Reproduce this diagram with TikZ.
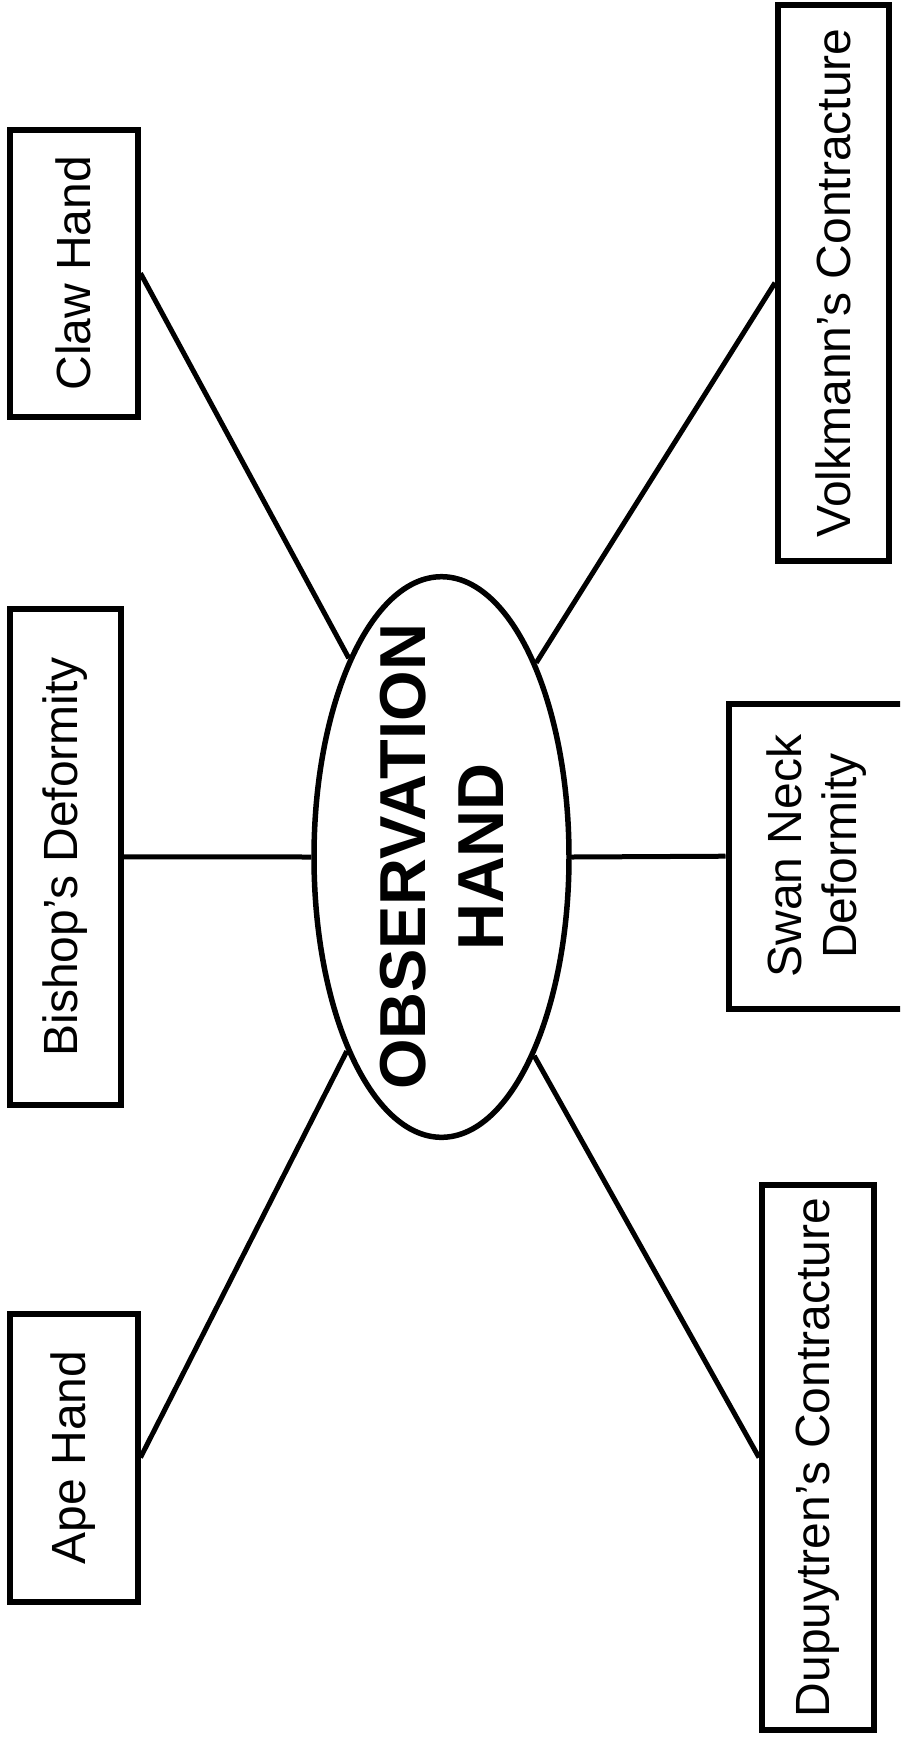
\documentclass[tikz,border=0pt]{standalone}
\usepackage{fontspec}
\setmainfont{Liberation Sans}
\usetikzlibrary{shapes.geometric}
\begin{document}
\begin{tikzpicture}[x=1pt,y=-1pt,
  box/.style={draw=black, line width=6pt, inner sep=0pt, align=center,
    font=\fontsize{48}{55}\selectfont},
  hub/.style={ellipse, draw=black, line width=5.5pt, inner sep=0pt,
    minimum width=255pt, minimum height=560.6pt},
  hubtext/.style={inner sep=0pt, font=\bfseries\fontsize{65}{78}\selectfont},
  link/.style={draw=black, line width=5pt}]
\clip (0,0) rectangle (900,1738);
\fill[white] (0,0) rectangle (900,1738);

\node[hub] (hand) at (441.5,857) {};
\node[hubtext] (handtext) at (449,857) {\rotatebox{90}{\begin{tabular}{@{}c@{}}OBSERVATION\\HAND\end{tabular}}};

\node[box, minimum width=128pt, minimum height=287.5pt] (claw) at (73.5,273.25) {\rotatebox{90}{Claw Hand}};
\node[box, minimum width=111.5pt, minimum height=496.5pt] (bishop) at (65.25,856.75) {\rotatebox{90}{Bishop’s Deformity}};
\node[box, minimum width=128pt, minimum height=288pt] (ape) at (73.5,1457.5) {\rotatebox{90}{Ape Hand}};
\node[box, minimum width=111pt, minimum height=556.5pt] (volk) at (833.5,282.75) {\rotatebox{90}{Volkmann’s Contracture}};
\node[box, minimum width=179pt, minimum height=305pt] (swan) at (818,856.2) {\rotatebox{90}{\begin{tabular}{@{}c@{}}Swan Neck\\Deformity\end{tabular}}};
\node[box, minimum width=112pt, minimum height=545pt] (dup) at (818,1457.5) {\rotatebox{90}{Dupuytren’s Contracture}};

\draw[link] (claw.east) -- (hand.115.4);
\draw[link] (bishop.east) -- (hand.west);
\draw[link] (ape.east) -- (hand.244.8);
\draw[link] (volk.west) -- (hand.64.6);
\draw[link] (hand.east) -- (swan.west);
\draw[link] (dup.west) -- (hand.295.2);
\end{tikzpicture}
\end{document}
